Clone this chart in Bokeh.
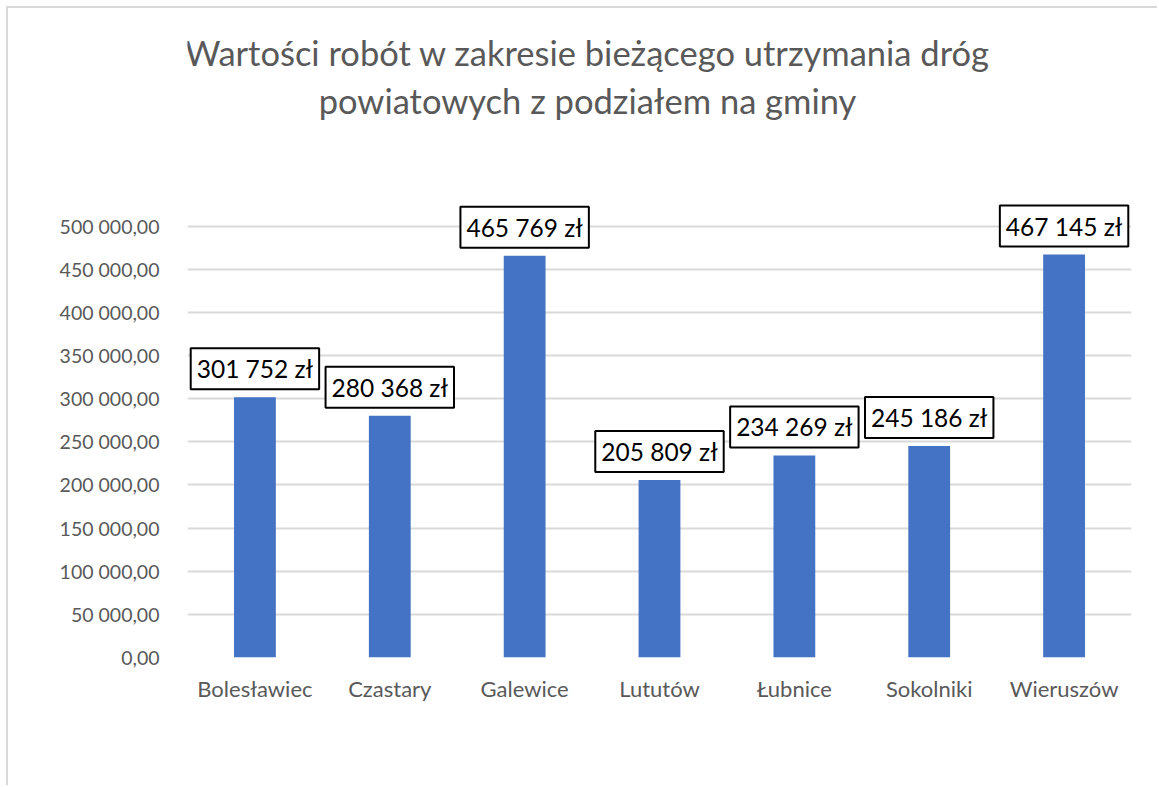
from bokeh.plotting import figure
from bokeh.models import FixedTicker, ColumnDataSource, Range1d
from bokeh.core.properties import value
from bokeh.embed import file_html
from bokeh.resources import INLINE

# ---- data ----
categories = ["Bolesławiec", "Czastary", "Galewice", "Lututów", "Łubnice", "Sokolniki", "Wieruszów"]
amounts = [301752, 280368, 465769, 205809, 234269, 245186, 467145]
y_ticks = [0, 50000, 100000, 150000, 200000, 250000, 300000, 350000, 400000, 450000, 500000]
y_tick_labels = ["0,00", "50 000,00", "100 000,00", "150 000,00", "200 000,00", "250 000,00",
                 "300 000,00", "350 000,00", "400 000,00", "450 000,00", "500 000,00"]
title_lines = ["Wartości robót w zakresie bieżącego utrzymania dróg",
               "powiatowych z podziałem na gminy"]

FONT = "Lato"
GREY = "#595959"

positions = list(range(len(categories)))
amount_labels = [f"{v:,}".replace(",", " ") + " zł" for v in amounts]
src = ColumnDataSource(dict(x=positions, y=amounts, lab=amount_labels))

# frame extends up to the top so the title (drawn in data space) is not clipped
p = figure(width=1151, height=779, output_backend="svg", toolbar_location=None,
           x_range=Range1d(-0.5, len(categories) - 0.5), y_range=Range1d(0, 750000),
           min_border_left=179, min_border_right=28, min_border_top=2, min_border_bottom=130)
p.outline_line_color = None
p.background_fill_color = "white"
p.border_fill_color = "white"
p.styles = {"margin-left": "8px", "margin-top": "8px",
            "box-shadow": "-2px -2px 0 0 #d9d9d9"}

p.vbar(x="x", top="y", width=0.31, source=src, fill_color="#4472C4", line_color=None)

p.text(x="x", y="y", text="lab", source=src, text_align="center", text_baseline="bottom",
       y_offset=-8, text_font=value(FONT), text_font_size="24.5px", text_color="black",
       background_fill_color="white", border_line_color="black", border_line_width=2,
       padding=6)

# title, centred on the chart area
tsrc = ColumnDataSource(dict(x=[2.466, 2.466], y=[701300, 645650], t=title_lines))
p.text(x="x", y="y", text="t", source=tsrc, text_align="center", text_baseline="middle",
       text_font=value(FONT), text_font_size="34.5px", text_color=GREY)

# axes
p.yaxis.ticker = FixedTicker(ticks=y_ticks)
p.yaxis.major_label_overrides = {t: l for t, l in zip(y_ticks, y_tick_labels)}
p.yaxis.axis_line_color = None
p.yaxis.major_tick_line_color = None
p.yaxis.minor_tick_line_color = None
p.yaxis.major_label_standoff = 22
p.yaxis.major_label_text_font = FONT
p.yaxis.major_label_text_font_size = "19.5px"
p.yaxis.major_label_text_color = GREY

p.xaxis.ticker = FixedTicker(ticks=positions)
p.xaxis.major_label_overrides = {i: c for i, c in zip(positions, categories)}
p.xaxis.axis_line_color = None
p.xaxis.major_tick_line_color = None
p.xaxis.minor_tick_line_color = None
p.xaxis.major_label_standoff = 11
p.xaxis.major_label_text_font = FONT
p.xaxis.major_label_text_font_size = "22px"
p.xaxis.major_label_text_color = GREY

p.xgrid.grid_line_color = None
p.ygrid.grid_line_color = "#d9d9d9"
p.ygrid.grid_line_width = 2

open("out.html", "w").write(file_html(p, INLINE))
